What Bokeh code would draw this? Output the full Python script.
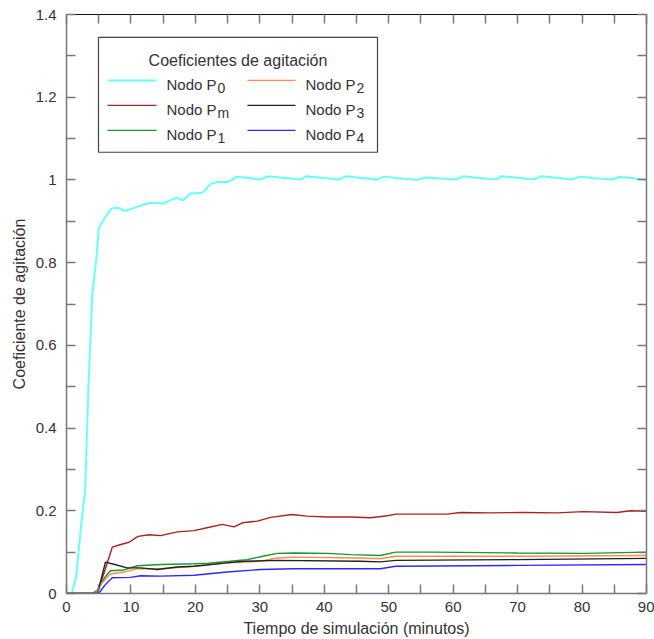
from bokeh.plotting import figure
from bokeh.models import Range1d, FixedTicker, LinearAxis, CustomJSTickFormatter
from bokeh.core.properties import value
from bokeh.embed import file_html
from bokeh.resources import INLINE

# ---------------- data ----------------
p0_x = [0, 0.8, 1.5, 2.2, 2.9, 3.4, 4.0, 4.6, 5.0, 6.0, 7.0, 8.0, 9.0, 10.5, 11.7, 13.0, 15.0, 16.0,
        17.1, 18.1, 19.2, 20.0, 21.1, 22.3, 23.4, 24.9, 25.7, 26.3, 28.0, 30.1, 31.3, 33.5, 36.4, 37.2,
        39.5, 42.3, 43.4, 45.5, 48.2, 49.3, 51.5, 54.5, 55.5, 57.5, 60.4, 61.6, 63.5, 66.6, 67.5, 70.0,
        72.5, 73.7, 76.0, 78.4, 79.6, 82.0, 84.7, 85.8, 88.0, 90.0]
p0_y = [0, 0, 0.04, 0.155, 0.25, 0.5, 0.72, 0.806, 0.883, 0.91, 0.931, 0.933, 0.925, 0.932, 0.939, 0.945,
        0.943, 0.95, 0.957, 0.951, 0.967, 0.968, 0.969, 0.99, 0.995, 0.995, 1.0, 1.008, 1.005, 1.001, 1.009,
        1.005, 1.001, 1.009, 1.005, 1.001, 1.009, 1.005, 1.001, 1.008, 1.004, 1.0, 1.006, 1.004, 1.001,
        1.009, 1.005, 1.001, 1.009, 1.005, 1.001, 1.009, 1.005, 1.001, 1.008, 1.004, 1.001, 1.007, 1.004, 1.0]

pm_x = [0, 4.8, 7.1, 7.9, 9.7, 11.1, 12.8, 14.6, 17.2, 19.8, 21.8, 24.2, 26.0, 27.3, 29.6, 31.7, 35.0,
        37.3, 40.5, 44.1, 47.2, 49.8, 51.1, 54.9, 59.1, 61.1, 65.8, 70.9, 76.1, 80.2, 85.4, 87.5, 90]
pm_y = [0, 0, 0.112, 0.116, 0.124, 0.138, 0.142, 0.140, 0.149, 0.152, 0.159, 0.167, 0.161, 0.171, 0.175,
        0.184, 0.191, 0.187, 0.185, 0.185, 0.183, 0.188, 0.192, 0.192, 0.192, 0.196, 0.195, 0.196, 0.195,
        0.198, 0.196, 0.2, 0.199]

p1_x = [0, 4.0, 4.8, 6.0, 6.8, 8.9, 11.0, 14.6, 19.8, 22.0, 25.4, 28.0, 30.5, 32.7, 35.3, 40.5, 44.1,
        48.7, 51.1, 57.0, 69.9, 80.3, 90]
p1_y = [0, 0, 0.008, 0.04, 0.055, 0.057, 0.067, 0.07, 0.072, 0.073, 0.078, 0.082, 0.09, 0.097, 0.098,
        0.097, 0.094, 0.092, 0.1, 0.1, 0.098, 0.097, 0.1]

p2_x = [0, 4.5, 5.3, 6.8, 8.9, 11.1, 14.6, 19.8, 24.9, 30.1, 32.7, 35.3, 45.6, 48.7, 51.1, 70, 90]
p2_y = [0, 0, 0.022, 0.047, 0.052, 0.06, 0.06, 0.066, 0.074, 0.078, 0.086, 0.088, 0.086, 0.084, 0.09,
        0.09, 0.092]

p3_x = [0, 4.8, 6.05, 7.5, 9.4, 11.5, 14.1, 17.2, 19.8, 24.9, 27.5, 32.7, 45.6, 48.7, 51.1, 70, 90]
p3_y = [0, 0, 0.076, 0.07, 0.062, 0.062, 0.058, 0.064, 0.066, 0.074, 0.078, 0.08, 0.078, 0.0765, 0.08,
        0.082, 0.085]

p4_x = [0, 5.0, 6.05, 7.1, 9.9, 11.5, 14.6, 19.8, 24.9, 30.1, 35.3, 45.6, 48.7, 51.1, 70, 90]
p4_y = [0, 0, 0.022, 0.038, 0.039, 0.043, 0.042, 0.044, 0.052, 0.058, 0.06, 0.06, 0.06, 0.066, 0.068, 0.07]

series_names = ["Nodo P", "Nodo P", "Nodo P", "Nodo P", "Nodo P", "Nodo P"]
series_subs = ["0", "m", "1", "2", "3", "4"]
series_colors = ["#66ffff", "#b02020", "#129a36", "#ff8c4a", "#222222", "#2b2bff"]
series_widths = [2, 1.4, 1.4, 1.4, 1.4, 1.4]
series_xs = [p0_x, pm_x, p1_x, p2_x, p3_x, p4_x]
series_ys = [p0_y, pm_y, p1_y, p2_y, p3_y, p4_y]

x_ticks = [0, 10, 20, 30, 40, 50, 60, 70, 80, 90]
x_minor = [5, 15, 25, 35, 45, 55, 65, 75, 85]
y_ticks = [0, 0.2, 0.4, 0.6, 0.8, 1.0, 1.2, 1.4]
y_tick_labels = ["0", "0.2", "0.4", "0.6", "0.8", "1", "1.2", "1.4"]
y_minor = [0.1, 0.3, 0.5, 0.7, 0.9, 1.1, 1.3]

legend_title = "Coeficientes de agitación"
x_label = "Tiempo de simulación (minutos)"
y_label = "Coeficiente de agitación"

# ---------------- layout ----------------
W, H = 654, 639
FL, FR, FT, FB = 66, 646, 14, 594   # frame in pixels
XMIN, XMAX, YMIN, YMAX = 0, 90, 0, 1.4
FONT = "Liberation Sans"
TXT = "#333333"


def px_x(px):
    return XMIN + (px - FL) / (FR - FL) * (XMAX - XMIN)


def px_y(py):
    return YMIN + (FB - py) / (FB - FT) * (YMAX - YMIN)


p = figure(width=W, height=H, output_backend="svg", toolbar_location=None,
           x_range=Range1d(XMIN, XMAX), y_range=Range1d(YMIN, YMAX),
           min_border_left=FL, min_border_right=W - FR, min_border_top=FT, min_border_bottom=H - FB)
p.xgrid.visible = False
p.ygrid.visible = False
p.outline_line_color = None
p.background_fill_color = "white"
p.border_fill_color = "white"

xt = FixedTicker(ticks=x_ticks, minor_ticks=x_minor)
yt = FixedTicker(ticks=y_ticks, minor_ticks=y_minor)


def style_axis(ax, line_color="#777777", lw=1.5):
    ax.axis_line_color = line_color
    ax.axis_line_width = lw
    ax.major_tick_in = 9
    ax.major_tick_out = 0
    ax.minor_tick_in = 9
    ax.minor_tick_out = 0
    ax.major_tick_line_color = "#777777"
    ax.minor_tick_line_color = "#777777"
    ax.major_tick_line_width = 1.5
    ax.minor_tick_line_width = 1.5
    ax.major_label_text_font = FONT
    ax.major_label_text_font_size = "15px"
    ax.major_label_text_color = TXT
    ax.axis_label_text_font = FONT
    ax.axis_label_text_font_size = "16px"
    ax.axis_label_text_font_style = "normal"
    ax.axis_label_text_color = TXT


xa = p.xaxis[0]
xa.ticker = xt
style_axis(xa)
xa.major_label_standoff = 8
xa.axis_label = x_label
xa.axis_label_standoff = 5

ya = p.yaxis[0]
ya.ticker = yt
style_axis(ya)
ya.major_label_overrides = {t: l for t, l in zip(y_ticks, y_tick_labels)}
ya.major_label_standoff = 10
ya.axis_label = y_label
ya.axis_label_standoff = 5

blank = CustomJSTickFormatter(code="return '';")

top = LinearAxis(ticker=xt, formatter=blank)
style_axis(top, "#111111", 1)
top.major_label_standoff = 0
p.add_layout(top, "above")

right = LinearAxis(ticker=yt, formatter=blank)
style_axis(right)
right.major_label_standoff = 0
p.add_layout(right, "right")

for xs, ys, c, w in zip(series_xs, series_ys, series_colors, series_widths):
    p.line(xs, ys, line_color=c, line_width=w)

# ---------------- legend (drawn by hand for subscripts) ----------------
p.quad(left=px_x(98), right=px_x(377), top=px_y(37), bottom=px_y(152),
       fill_color="white", line_color="#444444", line_width=1.2)
p.text(x=[px_x(237.5)], y=[px_y(60)], text=[legend_title], text_font=value(FONT),
       text_font_size="16px", text_color=TXT, text_align="center", text_baseline="alphabetic")

row_base = [84, 109, 134]
line_y = [80, 105, 130]
col_line = [(107, 156), (247, 295)]
col_text = [166, 305]
for i, (nm, sb, c) in enumerate(zip(series_names, series_subs, series_colors)):
    col, row = divmod(i, 3)
    lw = 2 if i == 0 else 1.3
    p.line([px_x(col_line[col][0]), px_x(col_line[col][1])], [px_y(line_y[row])] * 2,
           line_color=c, line_width=lw)
    p.text(x=[px_x(col_text[col])], y=[px_y(row_base[row])], text=[nm], text_font=value(FONT),
           text_font_size="15px", text_color=TXT, text_align="left", text_baseline="alphabetic")
    p.text(x=[px_x(col_text[col] + 51)], y=[px_y(row_base[row] + 4)], text=[sb], text_font=value(FONT),
           text_font_size="14px", text_color=TXT, text_align="left", text_baseline="alphabetic")

open("out.html", "w").write(file_html(p, INLINE))
